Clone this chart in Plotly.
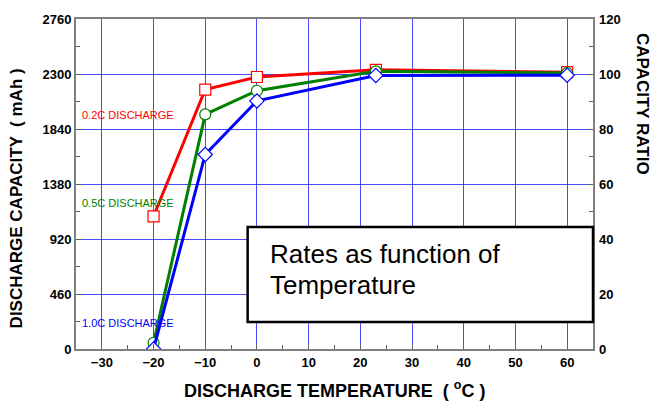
import plotly.graph_objects as go

temps = [-20, -10, 0, 23, 60]
cap_02c = [1110, 2170, 2275, 2335, 2315]
cap_05c = [52, 1962, 2160, 2322, 2308]
cap_10c = [0, 1627, 2075, 2288, 2290]

x_ticks = [-30, -20, -10, 0, 10, 20, 30, 40, 50, 60]
y_ticks = [0, 460, 920, 1380, 1840, 2300, 2760]
y2_ticks = [0, 20, 40, 60, 80, 100, 120]

labels = ["0.2C DISCHARGE", "0.5C DISCHARGE", "1.0C DISCHARGE"]
colors = ["#ff0000", "#008000", "#0000ff"]
symbols = ["square", "circle", "diamond"]
series = [cap_02c, cap_05c, cap_10c]

FONT = "Liberation Sans, Arial, sans-serif"
GRID = "rgba(40,40,255,0.85)"

fig = go.Figure()
for ys, c, s, name in zip(series, colors, symbols, labels):
    fig.add_trace(go.Scatter(
        x=temps, y=ys, mode="lines+markers", name=name,
        line=dict(color=c, width=3),
        marker=dict(symbol=s, size=11, color="white",
                    line=dict(color=c, width=1.2)),
        cliponaxis=True, showlegend=False))

# trace carrying the right axis (capacity ratio, %)
fig.add_trace(go.Scatter(x=[-100], y=[-100], yaxis="y2", mode="markers",
                         marker=dict(size=1, opacity=0), showlegend=False, hoverinfo="skip"))

axis_common = dict(showline=True, linecolor="#808080", linewidth=2, mirror=True,
                   ticks="inside", ticklen=5, tickcolor="#606060", zeroline=False)

fig.update_layout(
    width=652, height=402,
    margin=dict(l=76, r=59, t=16, b=53),
    paper_bgcolor="white", plot_bgcolor="white",
    font=dict(family=FONT, color="black"),
    xaxis=dict(range=[-35, 65], tickvals=x_ticks, showgrid=True, gridcolor=GRID, gridwidth=1,
               tickfont=dict(size=13, family=FONT, weight="bold"),
               minor=dict(dtick=5, tick0=-35, ticks="inside", ticklen=4, tickcolor="#606060", showgrid=False),
               **axis_common),
    yaxis=dict(range=[0, 2760], tickvals=y_ticks, showgrid=True, gridcolor=GRID, gridwidth=1,
               tickfont=dict(size=13, family=FONT, weight="bold"),
               minor=dict(dtick=230, tick0=0, ticks="inside", ticklen=4, tickcolor="#606060", showgrid=False),
               **axis_common),
    yaxis2=dict(range=[0, 120], tickvals=y2_ticks, overlaying="y", side="right", showgrid=False,
                showline=False, ticks="inside", ticklen=5, tickcolor="#606060",
                tickfont=dict(size=13, family=FONT, weight="bold"), ticklabelstandoff=5,
                minor=dict(dtick=10, ticks="inside", ticklen=4, tickcolor="#606060"),
                zeroline=False),
)

# text box
fig.add_shape(type="rect", xref="paper", yref="paper", x0=0.332, x1=1.0, y0=0.082, y1=0.370,
              line=dict(color="black", width=2.5), fillcolor="white", layer="above")
for txt, ty in zip(["Rates as function of", "Temperature"], [0.288, 0.195]):
    fig.add_annotation(xref="paper", yref="paper", x=0.371, y=ty, xanchor="left", yanchor="middle",
                       text=txt, showarrow=False, align="left",
                       font=dict(size=26, family=FONT, color="black"))

# series labels
lab_y = [0.709, 0.443, 0.079]
for name, c, ly in zip(labels, colors, lab_y):
    fig.add_annotation(xref="paper", yref="paper", x=0.008, y=ly, xanchor="left", yanchor="middle",
                       text=name, showarrow=False, font=dict(size=11, family=FONT, color=c))

# axis titles
fig.add_annotation(xref="paper", yref="paper", x=0.5, y=-0.123, xanchor="center", yanchor="middle",
                   text="DISCHARGE TEMPERATURE  ( <sup>o</sup>C )", showarrow=False,
                   font=dict(size=18, family=FONT, color="black", weight="bold"))
fig.add_annotation(xref="paper", yref="paper", x=-0.115, y=0.455, xanchor="center", yanchor="middle",
                   text="DISCHARGE CAPACITY  ( mAh )", showarrow=False, textangle=-90,
                   font=dict(size=17, family=FONT, color="black", weight="bold"))
fig.add_annotation(xref="paper", yref="paper", x=1.097, y=0.742, xanchor="center", yanchor="middle",
                   text="CAPACITY RATIO", showarrow=False, textangle=90,
                   font=dict(size=17, family=FONT, color="black", weight="bold"))

fig.write_html("out.html", config={"displayModeBar": False},
               post_script="document.body.style.margin='0';document.body.style.overflow='hidden';")
